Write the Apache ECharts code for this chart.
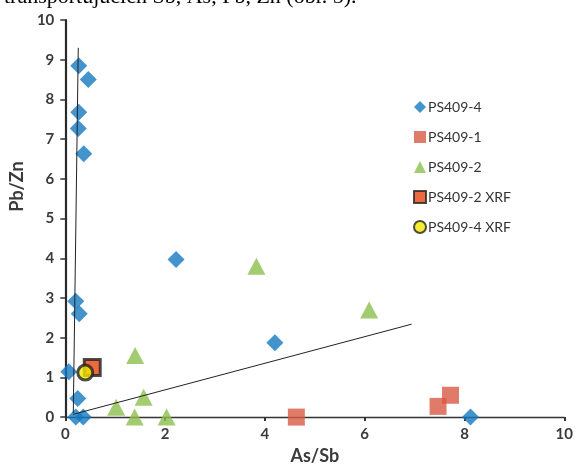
<!DOCTYPE html>
<html>
<head>
<meta charset="utf-8">
<script src="https://cdn.jsdelivr.net/npm/echarts@6/dist/echarts.min.js"></script>
<style>html,body{margin:0;padding:0;background:#fff}#c{width:576px;height:470px}</style>
</head>
<body>
<div id="c"></div>
<script>
// Data
const ps4X = [0.27, 0.46, 0.27, 0.26, 0.37, 2.22, 0.21, 0.28, 0.07, 0.25, 0.21, 0.36, 4.2, 8.12];
const ps4Y = [8.85, 8.5, 7.68, 7.27, 6.63, 3.97, 2.92, 2.6, 1.14, 0.47, 0.0, 0.0, 1.87, 0.0];
const ps1X = [4.63, 7.47, 7.72];
const ps1Y = [0.0, 0.27, 0.55];
const ps2X = [1.4, 1.57, 1.02, 1.39, 2.03, 3.83, 6.09];
const ps2Y = [1.55, 0.5, 0.25, 0.0, 0.0, 3.8, 2.7];
const ps2xrfX = [0.54];
const ps2xrfY = [1.25];
const ps4xrfX = [0.4];
const ps4xrfY = [1.12];
const trend1X = [0.16, 0.26];
const trend1Y = [0.1, 9.3];
const trend2X = [0.16, 6.94];
const trend2Y = [0.07, 2.34];
const seriesNames = ['PS409-4', 'PS409-1', 'PS409-2', 'PS409-2 XRF', 'PS409-4 XRF'];
const xTicks = [0, 2, 4, 6, 8, 10];
const yTicks = [0, 1, 2, 3, 4, 5, 6, 7, 8, 9, 10];

const zip = (a, b) => a.map((v, i) => [v, b[i]]);
const chart = echarts.init(document.getElementById('c'), null, {renderer: 'canvas'});
const lblFont = {fontFamily: 'Lato', fontWeight: 'bold', fontSize: 15, color: '#3b3b3b'};

chart.setOption({
  animation: false,
  backgroundColor: '#fff',
  grid: {left: 57, right: 11, top: 20, bottom: 45, containLabel: false},
  xAxis: {
    type: 'value', min: xTicks[0], max: xTicks[xTicks.length - 1], interval: 2,
    name: 'As/Sb', nameLocation: 'middle', nameGap: 27,
    nameTextStyle: {fontFamily: 'Lato', fontWeight: 'bold', fontSize: 18, color: '#3b3b3b'},
    axisLine: {show: true, lineStyle: {color: '#333', width: 1.3}},
    axisTick: {show: true, length: 4, lineStyle: {color: '#333', width: 2}},
    axisLabel: Object.assign({margin: 10}, lblFont),
    splitLine: {show: false}
  },
  yAxis: {
    type: 'value', min: yTicks[0], max: yTicks[yTicks.length - 1], interval: 1,
    name: 'Pb/Zn', nameLocation: 'middle', nameGap: 33,
    nameTextStyle: {fontFamily: 'Lato', fontWeight: 'bold', fontSize: 18, color: '#3b3b3b', padding: [0, 0, 0, 64]},
    axisLine: {show: true, lineStyle: {color: '#2a2a2a', width: 2.2}},
    axisTick: {show: true, length: 5, lineStyle: {color: '#333', width: 1.5}},
    axisLabel: Object.assign({margin: 11}, lblFont),
    splitLine: {show: false}
  },
  legend: {
    orient: 'vertical', left: 408, top: 95, itemGap: 16, itemWidth: 12, itemHeight: 12,
    data: seriesNames,
    textStyle: {fontFamily: 'Lato', fontSize: 14, color: '#333', padding: [0, 0, 0, -3]}
  },
  graphic: [{
    type: 'text', left: 4, top: -14,
    style: {text: 'transportujúcich Sb, As, Pb, Zn (obr. 5).', font: '22px "Liberation Serif"', fill: '#000'}
  }],
  series: [
    {name: seriesNames[0], type: 'scatter', symbol: 'diamond', symbolSize: 17, data: zip(ps4X, ps4Y),
     itemStyle: {color: '#1479bf'}, z: 2},
    {name: seriesNames[1], type: 'scatter', symbol: 'rect', symbolSize: 17, data: zip(ps1X, ps1Y),
     itemStyle: {color: '#d85a44'}, z: 2},
    {name: seriesNames[2], type: 'scatter', symbol: 'triangle', symbolSize: [18, 17], data: zip(ps2X, ps2Y),
     itemStyle: {color: '#8cbf4e'}, z: 2},
    {name: seriesNames[3], type: 'scatter', symbol: 'rect', symbolSize: 16, data: zip(ps2xrfX, ps2xrfY),
     itemStyle: {color: '#e8450e', borderColor: '#222', borderWidth: 3}, z: 3},
    {name: seriesNames[4], type: 'scatter', symbol: 'circle', symbolSize: 15, data: zip(ps4xrfX, ps4xrfY),
     itemStyle: {color: '#f2e600', borderColor: '#222', borderWidth: 3}, z: 4},
    {name: 'trend1', type: 'line', data: zip(trend1X, trend1Y), symbol: 'none', silent: true,
     lineStyle: {color: '#222', width: 1}, z: 5},
    {name: 'trend2', type: 'line', data: zip(trend2X, trend2Y), symbol: 'none', silent: true,
     lineStyle: {color: '#222', width: 1}, z: 5}
  ]
});
</script>
</body>
</html>
